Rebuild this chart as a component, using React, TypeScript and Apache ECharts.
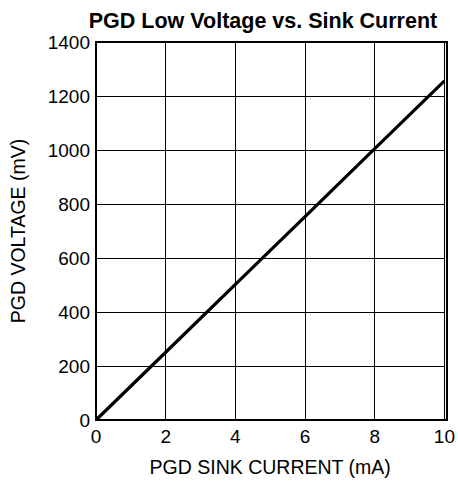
import React, { useEffect, useRef } from "react";
import * as echarts from "echarts";

const title = "PGD Low Voltage vs. Sink Current";
const xName = "PGD SINK CURRENT (mA)";
const yName = "PGD VOLTAGE (mV)";
const sinkCurrent = [0, 2, 4, 6, 8, 10];
const pgdVoltage = [0, 251, 502, 753, 1005, 1256];

export default function App() {
  const ref = useRef<HTMLDivElement>(null);
  useEffect(() => {
    const chart = echarts.init(ref.current!, null, { renderer: "svg" });
    const font = "Liberation Sans, Arial, sans-serif";
    chart.setOption({
      animation: false,
      backgroundColor: "#ffffff",
      title: {
        text: title,
        left: 258,
        textAlign: "center",
        top: 5,
        textStyle: { fontFamily: font, fontSize: 21.5, fontWeight: "bold", color: "#000" },
      },
      grid: { left: 96, right: 11, top: 42, bottom: 73 },
      xAxis: {
        type: "value",
        min: 0,
        max: 10,
        interval: 2,
        name: xName,
        nameLocation: "middle",
        nameGap: 37,
        nameTextStyle: { fontFamily: font, fontSize: 19.5, color: "#000" },
        axisLine: { show: true, lineStyle: { color: "#000", width: 2 } },
        axisTick: { show: false },
        axisLabel: {
          fontFamily: font,
          fontSize: 19,
          color: "#000",
          margin: 7,
          formatter: (v: number) => String(v),
        },
        splitLine: { show: true, lineStyle: { color: "#000", width: 1 } },
      },
      yAxis: {
        type: "value",
        min: 0,
        max: 1400,
        interval: 200,
        name: yName,
        nameLocation: "middle",
        nameGap: 68,
        nameTextStyle: { fontFamily: font, fontSize: 19.5, color: "#000" },
        axisLine: { show: true, lineStyle: { color: "#000", width: 2 } },
        axisTick: { show: false },
        axisLabel: {
          fontFamily: font,
          fontSize: 19,
          color: "#000",
          margin: 6,
          formatter: (v: number) => String(v),
        },
        splitLine: { show: true, lineStyle: { color: "#000", width: 1 } },
      },
      series: [
        {
          type: "line",
          data: sinkCurrent.map((x, i) => [x, pgdVoltage[i]]),
          showSymbol: false,
          lineStyle: { color: "#000", width: 3.2 },
          clip: true,
        },
      ],
      graphic: [
        {
          type: "rect",
          shape: { x: 96, y: 42, width: 351, height: 378 },
          style: { fill: "none", stroke: "#000", lineWidth: 2 },
          z: 10,
        },
      ],
    });
    return () => chart.dispose();
  }, []);
  return (
    <div
      ref={ref}
      style={{ position: "fixed", left: 0, top: 0, width: 458, height: 493 }}
    />
  );
}
